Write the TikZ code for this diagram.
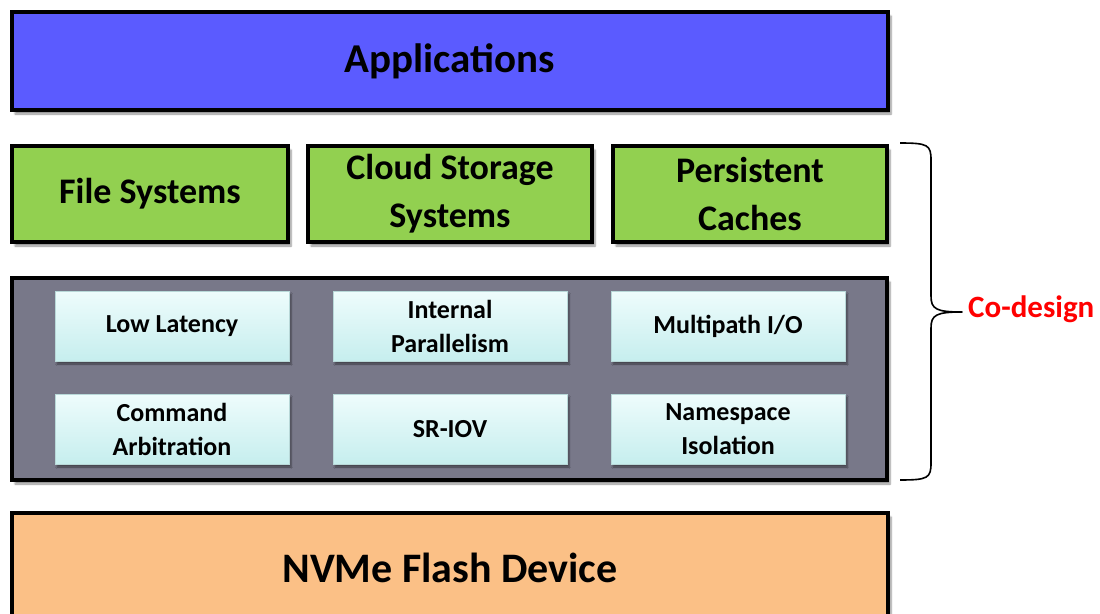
\documentclass[tikz,border=0pt]{standalone}
\usepackage{fontspec}
\setmainfont{Carlito}
\usetikzlibrary{shadows.blur}
\definecolor{appblue}{HTML}{5B5BFF}
\definecolor{layergreen}{HTML}{92D050}
\definecolor{featgray}{HTML}{787889}
\definecolor{flashorange}{HTML}{FBC086}
\definecolor{celltop}{HTML}{EEFCFC}
\definecolor{cellbot}{HTML}{C6EEEE}
\definecolor{cellrim}{HTML}{B8D8D8}
\tikzset{
  layer/.style={draw=black, line width=4pt, inner sep=0pt, align=center,
    font=\bfseries, text=black,
    blur shadow={shadow xshift=3pt, shadow yshift=-4pt, shadow blur steps=6, shadow opacity=45}},
  cell/.style={draw=cellrim, line width=1pt, top color=celltop, bottom color=cellbot,
    minimum width=234pt, minimum height=70pt, inner sep=0pt, align=center,
    font=\fontsize{26}{29}\selectfont\bfseries,
    blur shadow={shadow xshift=2pt, shadow yshift=-3pt, shadow blur steps=5, shadow opacity=45}},
  twoline/.style={font=\fontsize{26}{34}\selectfont\bfseries},
}
\begin{document}
\begin{tikzpicture}[x=1pt, y=-1pt]
  \useasboundingbox (0,0) rectangle (1100,613);
  \begin{scope}
    \clip (0,0) rectangle (1100,613);

    % top layer
    \node[layer, fill=appblue, minimum width=876pt, minimum height=98pt,
          font=\fontsize{41}{45}\selectfont\bfseries] (apps) at (450,61) {Applications};

    % storage systems layer
    \node[layer, fill=layergreen, minimum width=276pt, minimum height=96pt,
          font=\fontsize{36}{42}\selectfont\bfseries] (fs) at (150,194) {File Systems};
    \node[layer, fill=layergreen, minimum width=284pt, minimum height=96pt,
          font=\fontsize{36}{48}\selectfont\bfseries] (cloud) at (450,194) {Cloud Storage\\Systems};
    \node[layer, fill=layergreen, minimum width=274pt, minimum height=96pt,
          font=\fontsize{36}{48}\selectfont\bfseries] (pcache) at (750,194) {Persistent\\Caches};

    % NVMe feature panel
    \node[layer, fill=featgray, minimum width=875pt, minimum height=202pt] (feat) at (449.5,379) {};

    \node[cell] (lat)  at (172,326) {Low Latency};
    \node[cell, twoline] (par)  at (450,326) {Internal\\Parallelism};
    \node[cell] (mpio) at (728,326) {Multipath I/O};
    \node[cell, twoline] (arb)  at (172,429) {Command\\Arbitration};
    \node[cell] (sriov) at (450,429) {SR-IOV};
    \node[cell, twoline] (ns)   at (728,429) {Namespace\\Isolation};

    % device layer
    \node[layer, fill=flashorange, minimum width=876pt, minimum height=110pt,
          font=\fontsize{42}{46}\selectfont\bfseries] (nvme) at (450,568) {NVMe Flash Device};
  \end{scope}

  % brace spanning the co-designed layers
  \coordinate (btop) at (900,143);
  \coordinate (btip) at (962,312);
  \coordinate (bbot) at (900,480);
  \draw[line width=1.6pt, line join=round]
    (btop) .. controls (928,143) and (931,145) .. (931,160)
    -- (931,296) .. controls (931,309) and (936,312) .. (btip)
    .. controls (936,312) and (931,315) .. (931,328)
    -- (931,463) .. controls (931,478) and (928,480) .. (bbot);
  \node[anchor=west, text=red, inner sep=0pt, font=\fontsize{31}{34}\selectfont\bfseries] (codesign) at (968,309) {Co-design};
\end{tikzpicture}
\end{document}
